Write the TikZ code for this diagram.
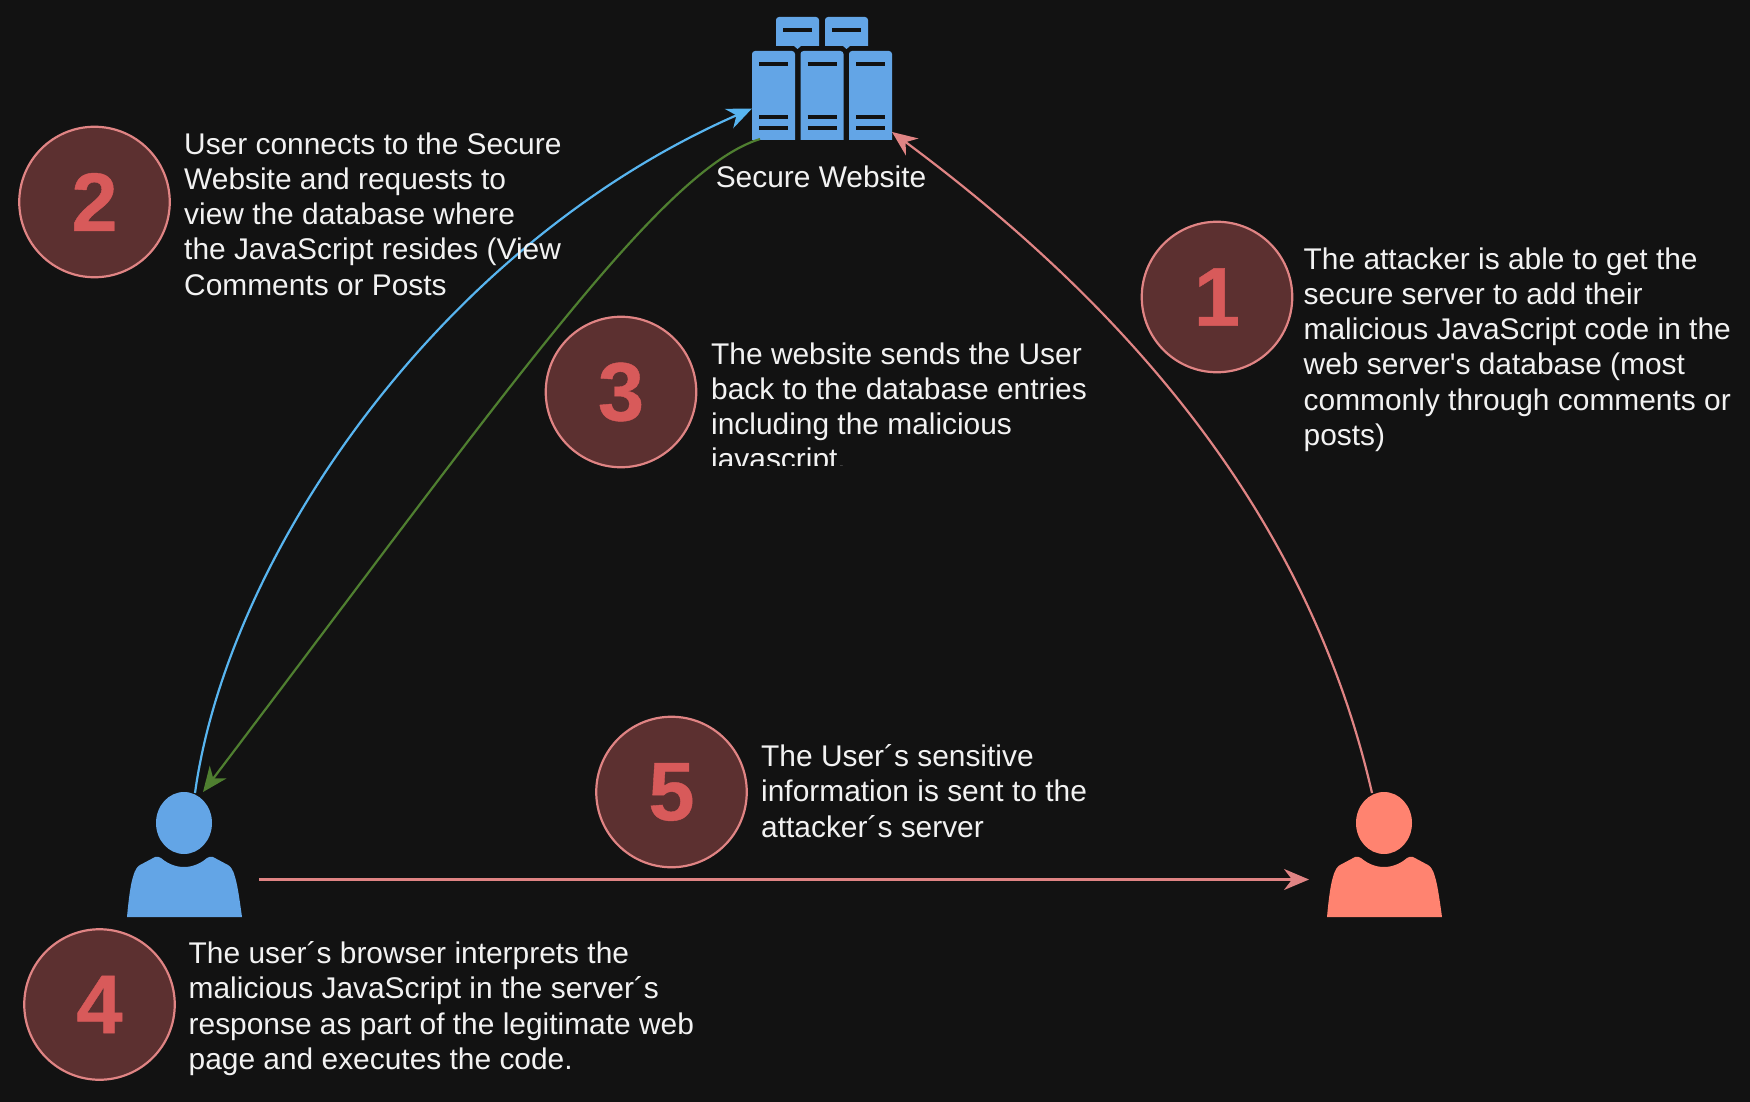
\documentclass[tikz,border=0pt]{standalone}
\usepackage{fontspec}
\setmainfont{Liberation Sans}[Ligatures=TeXOff]
\newfontfamily\digitfont{Liberation Sans Bold}[FakeBold=0.5,Ligatures=TeXOff]
\usetikzlibrary{arrows.meta}
\definecolor{bgc}{HTML}{121212}
\definecolor{iconblue}{HTML}{63A5E6}
\definecolor{iconred}{HTML}{FF8370}
\definecolor{lineblue}{HTML}{58B5F0}
\definecolor{linegreen}{HTML}{4F7F30}
\definecolor{linered}{HTML}{E08484}
\definecolor{circfill}{HTML}{5C3030}
\definecolor{digitc}{HTML}{D85A5A}
\tikzset{
  badge/.style={circle,draw=linered,fill=circfill,line width=2.2pt,minimum size=150.5pt,inner sep=0pt,text=digitc,font=\fontsize{83}{83}\selectfont\digitfont},
  info/.style={anchor=north west,inner sep=0pt,text=white!95!black,align=left,font=\fontsize{29.9}{35.2}\selectfont},
  tip/.style={-{Stealth[length=25pt,width=21pt,inset=8pt]}},
  conn/.style={tip,line width=2.2pt},
  bar/.style={line width=4pt,draw=bgc},
  panel/.style={fill=iconblue,rounded corners=3pt},
}
\newcommand{\drawperson}[2]{%
  \begin{scope}[shift={(#1,823)}]
    \fill[#2] (0,0) ellipse [x radius=28,y radius=31];
    \fill[#2] (-57,94) .. controls (-55,72) and (-53,60) .. (-51,54)
      .. controls (-49,46) and (-46,43) .. (-44,42)
      -- (-29,34) .. controls (-27,33) and (-25,34) .. (-23,35)
      .. controls (-16,41) and (-8,44) .. (0,44)
      .. controls (8,44) and (16,41) .. (23,35)
      .. controls (25,34) and (27,33) .. (29,34)
      -- (44,42) .. controls (46,43) and (49,46) .. (51,54)
      .. controls (53,60) and (55,72) .. (58,94) -- cycle;
  \end{scope}}
\newcommand{\drawrack}[1]{%
  \fill[panel] (#1,140) [sharp corners] -- (#1,100) [rounded corners=3pt] -- (#1,51) -- (#1+43,51) -- (#1+43,100) [sharp corners] -- (#1+43,140) -- cycle;
  \draw[bar] (#1+7,64.5) -- (#1+36,64.5);
  \draw[bar] (#1+7,117) -- (#1+36,117);
  \draw[bar] (#1+7,128.5) -- (#1+36,128.5);}
\newcommand{\drawbubble}[1]{%
  \fill[panel] (#1,46) [sharp corners] -- (#1,30) [rounded corners=3pt] -- (#1,17) -- (#1+43,17) -- (#1+43,30) [sharp corners] -- (#1+43,46) -- (#1+25,46) -- (#1+21.5,49) -- (#1+18,46) -- cycle;
  \draw[bar] (#1+7,30.5) -- (#1+36,30.5);}
\begin{document}
\begin{tikzpicture}[x=1pt,y=-1pt]
\useasboundingbox (0,0) rectangle (1750,1102);
\fill[bgc] (0,0) rectangle (1750,1102);
% icons
\drawrack{752}\drawrack{800.5}\drawrack{849}
\drawbubble{776}\drawbubble{825}
\drawperson{184}{iconblue}
\drawperson{1384}{iconred}
% anchors for connectors
\coordinate (userTop) at (195,793);
\coordinate (userTip) at (203,792);
\coordinate (serverL) at (752,108.5);
\coordinate (serverB) at (760,139);
\coordinate (serverR) at (892,132);
\coordinate (attTop) at (1372,793);
\coordinate (userR) at (259,879.5);
\coordinate (attL) at (1309,879.5);
% connectors
\draw[conn,draw=lineblue] (userTop) .. controls (228,555) and (440,245) .. (serverL);
\draw[conn,draw=linegreen] (serverB) .. controls (660,170) and (500,400) .. (userTip);
\draw[conn,draw=linered] (attTop) .. controls (1318,558) and (1175,342) .. (serverR);
\draw[conn,draw=linered] (userR) -- (attL);
% badges
\node[badge] (b2) at (94.5,202) {2};
\node[badge] (b1) at (1217,297) {1};
\node[badge] (b3) at (621,392) {3};
\node[badge] (b5) at (671.5,792) {5};
\node[badge] (b4) at (99.5,1004.5) {4};
% texts
\node[info,anchor=base] (lab) at (821,188) {Secure Website};
\node[info] (t2) at (184,132.5) {User connects to the Secure\\Website and requests to\\view the database where\\the JavaScript resides (View\\Comments or Posts};
\node[info] (t1) at (1303.5,247.5) {The attacker is able to get the\\secure server to add their\\malicious JavaScript code in the\\web server's database (most\\commonly through comments or\\posts)};
\begin{scope}
\clip (700,330) rectangle (1100,465);
\node[info] (t3) at (711,342.5) {The website sends the User\\back to the database entries\\including the malicious\\javascript.};
\end{scope}
\node[info] (t5) at (761,744.5) {The User´s sensitive\\information is sent to the\\attacker´s server};
\node[info] (t4) at (188.5,941.5) {The user´s browser interprets the\\malicious JavaScript in the server´s\\response as part of the legitimate web\\page and executes the code.};
\end{tikzpicture}
\end{document}
